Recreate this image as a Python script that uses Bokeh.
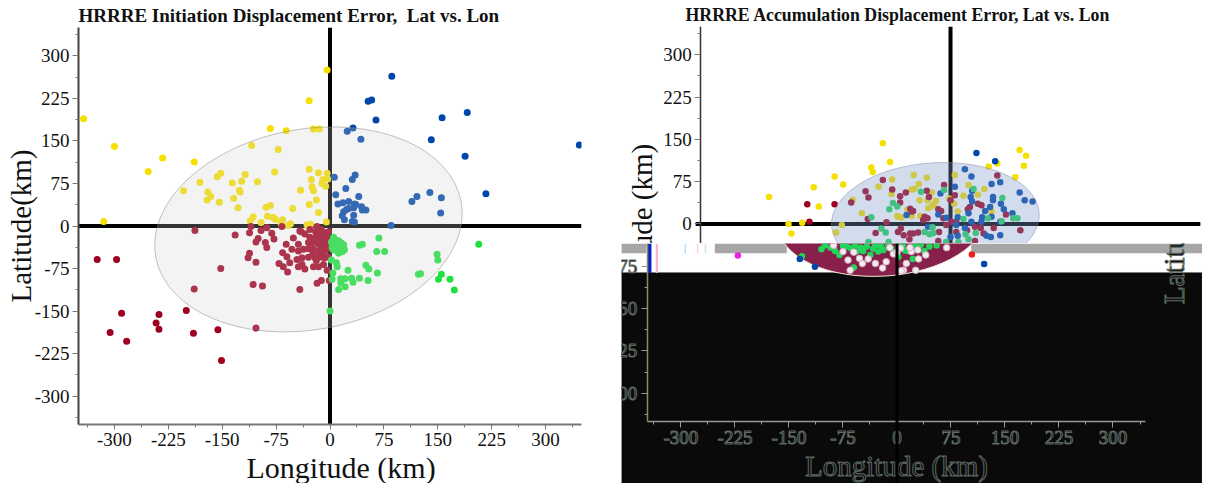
from math import pi
from bokeh.embed import file_html
from bokeh.resources import INLINE
from bokeh.plotting import figure
from bokeh.layouts import row, column
from bokeh.models import LinearAxis, FixedTicker, Span, Label, Title, Range1d

TITLE_L = "HRRRE Initiation Displacement Error,\u00a0 Lat vs. Lon"
TITLE_R = "HRRRE Accumulation Displacement Error, Lat vs. Lon"
XLABEL = "Longitude (km)"
MAJOR = [-300, -225, -150, -75, 0, 75, 150, 225, 300]
MAJOR_TEXT = ["-300", "-225", "-150", "-75", "0", "75", "150", "225", "300"]
MINOR = [-337.5, -262.5, -187.5, -112.5, -37.5, 37.5, 112.5, 187.5, 262.5, 337.5]

# Panel 1: initiation
y1 = [(-343,189),(-300,140),(-315,8),(-253,96),(-233,120),(-189,113),(-204,62),(-181,77),(-170,60),(-166,52),(-171,46),(-157,87),(-152,93),(-154,42),(-136,76),(-123,79),(-118,91),(-126,63),(-125,60),(-134,49),(-128,32),(-101,78),(-109,142),(-83,172),(-61,168),(-72,135),(-77,95),(-29,221),(-4,275),(-23,171),(-15,171),(-29,100),(-16,94),(-4,93),(-26,82),(-10,82),(-3,83),(-11,75),(-6,70),(-25,69),(-23,62),(-41,63),(-19,46),(-29,38),(-16,24),(-52,31),(-89,33),(-83,36),(-87,17),(-79,15),(-76,12),(-107,16),(-111,9),(-96,6),(-66,11),(-68,4),(-55,4),(-58,1),(-32,2),(-27,3),(-5,7)]
m1 = [(-324,-59),(-297,-59),(-290,-154),(-306,-188),(-283,-203),(-238,-156),(-242,-171),(-238,-182),(-200,-149),(-189,-111),(-190,-189),(-156,-183),(-151,-237),(-152,-75),(-188,-8),(-103,-180),(-107,-103),(-94,-106),(-42,-112),(-103,-64),(-132,-16),(-112,-48),(-114,-56),(-112,-12),(-110,-1),(-96,-8),(-88,-3),(-81,-13),(-78,-23),(-90,-29),(-88,-38),(-100,-22),(-103,-28),(-67,-1),(-71,-66),(-65,-72),(-59,-81),(-66,-47),(-60,-54),(-56,-65),(-61,-32),(-53,-41),(-51,-21),(-44,-32),(-44,-44),(-37,-41),(-30,-29),(-46,-59),(-39,-56),(-30,-55),(-44,-72),(-35,-76),(-39,-68),(-21,-56),(-19,-61),(-23,-72),(-16,-72),(-9,-68),(-4,-78),(-18,-101),(-12,-96),(-1,-96),(-16,-32),(-12,-38),(-7,-26),(-21,-21),(-14,-15),(-23,-41),(-7,-44),(-14,-47),(-19,-26),(-7,-12),(-12,-6),(-18,-1),(-5,-35),(-5,-20),(-9,-50),(-25,-30),(-11,-28),(-3,-40),(-3,-25),(-17,-44),(-28,-6),(-35,-14),(-40,-10),(-42,-9),(-9,-16),(-2,-10),(-20,-10),(-28,-20),(-13,-22),(-24,-50),(-30,-40),(-8,-56),(-2,-55),(-15,-55)]
b1 = [(86,264),(53,220),(58,222),(64,187),(32,173),(24,167),(43,153),(156,191),(191,200),(141,152),(188,123),(347,143),(217,57),(6,86),(35,90),(31,82),(22,66),(8,55),(40,52),(11,39),(18,41),(26,43),(34,39),(36,38),(33,32),(44,34),(45,28),(50,28),(26,31),(23,29),(19,25),(17,18),(20,11),(33,19),(31,8),(34,7),(114,43),(121,52),(139,59),(155,50),(154,23),(85,1)]
g1 = [(68,-21),(207,-32),(41,-34),(45,-32),(65,-45),(76,-45),(149,-50),(150,-60),(50,-69),(54,-76),(66,-83),(25,-78),(41,-92),(53,-96),(30,-92),(32,-99),(15,-93),(21,-93),(15,-100),(21,-107),(12,-112),(4,-83),(3,-94),(2,-60),(9,-65),(10,-72),(123,-85),(126,-84),(155,-85),(151,-94),(167,-94),(173,-113),(0,-150),(5,-20),(8,-25),(4,-30),(12,-26),(16,-30),(3,-38),(8,-35),(15,-38),(20,-42),(10,-44),(5,-42),(2,-28),(17,-45),(18,-36),(12,-48),(7,-28),(14,-30),(19,-33)]
ell1 = dict(x=-30, y=-6, w=432, h=354, angle=0.1786)

# Panel 2: accumulation, points above the displaced rows
y2 = [(-252,48),(-225,0),(-221,-17),(-206,2),(-183,31),(-190,65),(-161,84),(-149,70),(-136,43),(-151,-2),(-159,-15),(-123,19),(-110,100),(-108,92),(-94,143),(-84,110),(-100,66),(-81,79),(-82,53),(-51,87),(-74,14),(-69,12),(-60,25),(-54,14),(-54,61),(-51,62),(96,131),(105,121),(102,103),(65,107),(53,102),(90,83),(6,87),(-33,82),(-44,71),(-50,62),(-26,56),(25,69),(47,62),(18,50),(38,52),(-2,45),(-43,42),(-32,42),(-20,41),(-23,35),(-31,28),(-26,32),(5,36),(10,22),(57,22),(-73,13),(-68,12),(-42,14)]
m2 = [(-199,35),(-161,35),(-196,4),(-138,38),(-118,58),(-114,47),(-94,78),(-81,61),(-70,49),(-70,38),(-62,56),(-56,27),(-54,22),(-115,9),(-89,3),(-104,-16),(-73,-14),(-69,-8),(-65,-20),(-57,-27),(-52,-17),(65,86),(-9,69),(-33,59),(-30,48),(6,51),(0,42),(-52,23),(-17,26),(-13,23),(27,30),(24,26),(38,36),(43,33),(77,17),(-36,13),(-38,7),(-32,10),(-10,10),(-6,-2),(1,4),(8,4),(34,-5),(42,-7),(60,-7),(46,-17),(8,-14),(23,-11),(97,-11),(-16,-14),(-45,-15),(-56,-17),(-17,-30),(34,-30)]
b2 = [(-61,16),(36,126),(62,111),(20,97),(29,84),(6,66),(57,71),(69,74),(30,59),(-14,54),(96,56),(103,42),(114,40),(28,48),(30,40),(59,48),(59,42),(70,36),(74,26),(86,19),(55,30),(48,23),(57,13),(44,12),(43,4),(25,19),(-17,17),(-6,11),(10,12),(29,4),(20,-7),(69,4),(69,-20),(56,-23),(50,-21),(10,-21),(0,-23),(-31,-5),(8,-2)]
g2 = [(-110,12),(-96,-8),(-90,-15),(-85,26),(-80,37),(-74,31),(-86,-32),(-114,-32),(-9,60),(-41,57),(32,62),(72,46),(-25,-6),(-36,-14),(-29,-18),(-24,-16),(18,9),(52,10),(71,5),(87,10),(93,10),(35,-16),(21,-18),(25,-27),(-6,-32),(11,-32)]
ell2 = dict(x=-21, y=8, w=289, h=201, angle=0.061)
zero_x2 = [-354, 347]
zero_y2 = [0, 0]

# Panel 2: points in the displaced rows
g3 = [(-105,-45),(-132,-57),(-86,-48),(-80,-55),(-64,-43),(-56,-49),(-47,-48),(-37,-55),(-26,-49),(-19,-46),(-60,-77),(-70,-40),(2,-58),(22,-62),(38,-48),(11,-47),(-100,-38),(-92,-42),(-75,-38),(-58,-38),(-50,-42),(-42,-40),(-33,-44),(-30,-38),(-22,-40),(-12,-38),(-8,-44),(2,-40),(8,-38),(15,-48),(25,-40),(33,-37),(45,-40),(55,-38)]
w3 = [(-75,-49),(-68,-64),(-52,-61),(-65,-82),(-5,-53),(-15,-67),(13,-70),(9,-82),(20,-49),(5,-43),(18,-42),(29,-46),(6,-83),(26,-82),(69,-42),(-88,-38),(-60,-50),(-40,-62),(-30,-70),(-10,-42),(0,-50),(30,-62),(40,-55),(-48,-70),(-20,-78)]
b3 = [(-135,-62),(-114,-76),(121,-71)]
r3 = [(104,-54)]
v3 = [(-221,-56)]

# Displacement artefacts of panel 2
band_l = [-383, -253, 103]
band_r = [-348, -153, 424]
band_top = [-34.6, -34.6, -34.6]
band_bot = [-52, -52, -52]
band_col = ["#a6a6a6", "#a6a6a6", "#a6a6a6"]
stripe_l = [-347, -335, -295, -278, -267]
stripe_r = [-341, -332, -293, -276, -265]
stripe_top = [-34.6, -34.6, -34.6, -34.6, -34.6]
stripe_bot = [-87, -87, -52, -52, -52]
stripe_col = ["#0a22c8", "#f7b4d4", "#b4dcff", "#ffd0e0", "#c8f0c8"]
block = dict(left=-383, right=424, top=-86, bottom=-460)

SERIF = "Liberation Serif"
YEL, MAR, BLU, GRN = "#f6e000", "#a00020", "#0047ab", "#1de23d"
GRN2 = "#22d45c"


def pts(p, data, color, size=7, **kw):
    p.scatter([d[0] for d in data], [d[1] for d in data], size=size, fill_color=color,
              line_color=kw.pop("line_color", None), **kw)


def style_axis(a, tick=19, lab=29):
    a.ticker = FixedTicker(ticks=MAJOR, minor_ticks=MINOR)
    a.major_label_overrides = dict(zip(MAJOR, MAJOR_TEXT))
    a.major_label_text_font = SERIF
    a.major_label_text_font_size = f"{tick}px"
    a.major_label_text_color = "#111111"
    a.axis_label_text_font = SERIF
    a.axis_label_text_font_style = "normal"
    a.axis_label_text_font_size = f"{lab}px"
    a.axis_label_text_color = "#111111"
    a.major_tick_in = 0
    a.minor_tick_in = 0
    a.major_tick_out = 6
    a.minor_tick_out = 3
    a.major_tick_line_color = "#777777"
    a.minor_tick_line_color = "#777777"


# ---------- left panel ----------
left = figure(frame_width=503, frame_height=397,
              x_range=Range1d(-350, 350), y_range=Range1d(-350, 350),
              x_axis_location=None, y_axis_location=None, toolbar_location=None,
              output_backend="svg", min_border_left=78, min_border_right=40,
              min_border_top=26, min_border_bottom=0, outline_line_color=None)
left.grid.visible = False
left.add_layout(Title(text=TITLE_L, align="left", text_font=SERIF, text_font_size="19px",
                      text_font_style="bold", text_color="#111111", standoff=4), "above")
ya = LinearAxis(axis_label="Latitude(km)", axis_line_color="#444444", axis_line_width=2)
xa = LinearAxis(axis_line_color="#777777", axis_line_width=2)
style_axis(ya); style_axis(xa)
ya.major_label_standoff = 3; ya.axis_label_standoff = -5
xa.major_label_standoff = 3
xa.major_tick_out = 5
left.add_layout(ya, "left"); left.add_layout(xa, "below")
left.add_layout(Title(text=XLABEL, align="left", offset=168, text_font=SERIF, text_font_size="30px",
                      text_font_style="normal", text_color="#111111", standoff=0, text_line_height=0.85), "below")
z_tick = LinearAxis(fixed_location=-350, ticker=FixedTicker(ticks=[0]), axis_line_color=None,
                    major_tick_line_color="black", major_tick_line_width=4, major_tick_in=0, major_tick_out=5,
                    major_label_text_alpha=0, minor_tick_line_color=None)
left.add_layout(z_tick, "left")
left.add_layout(Span(location=0, dimension="width", line_color="black", line_width=4, level="underlay"))
left.add_layout(Span(location=0, dimension="height", line_color="black", line_width=4, level="underlay"))
pts(left, y1, YEL); pts(left, m1, MAR); pts(left, b1, BLU); pts(left, g1, GRN)
left.ellipse([ell1["x"]], [ell1["y"]], width=ell1["w"], height=ell1["h"], angle=ell1["angle"],
             fill_color="#d0d0d0", fill_alpha=0.25, line_color="#888888", line_alpha=0.5)

# ---------- right panel, upper rows ----------
top = figure(frame_width=581, frame_height=217,
             x_range=Range1d(-457, 350), y_range=Range1d(-34.6, 350),
             x_axis_location=None, y_axis_location=None, toolbar_location=None,
             output_backend="svg", min_border=0, min_border_top=24, outline_line_color=None)
top.grid.visible = False
top.add_layout(Title(text=TITLE_R, align="left", offset=64, text_font=SERIF, text_font_size="17.8px",
                     text_font_style="bold", text_color="#111111", standoff=4), "above")
ya2 = LinearAxis(fixed_location=-347, axis_line_color="#333333", axis_line_width=1.5)
style_axis(ya2)
ya2.major_label_standoff = 3
top.add_layout(ya2, "left")
top.line(zero_x2, zero_y2, line_color="black", line_width=4)
top.add_layout(Span(location=0, dimension="height", line_color="black", line_width=4, level="underlay"))
pts(top, y2, YEL, 6.5); pts(top, m2, MAR, 6.5); pts(top, b2, BLU, 6.5); pts(top, g2, GRN2, 6.5)
top.ellipse([ell2["x"]], [ell2["y"]], width=ell2["w"], height=ell2["h"], angle=ell2["angle"],
            fill_color="#819bc8", fill_alpha=0.35, line_color="#8090b0", line_alpha=0.5)
top.add_layout(Label(x=-428, y=0, text="Latitude (km)", angle=pi / 2, text_align="center",
                     text_baseline="middle", text_font=SERIF, text_font_size="29px", text_color="#111111"))

# ---------- right panel, displaced rows ----------
low = figure(frame_width=581, frame_height=240, x_range=Range1d(-382.6, 424.3), y_range=Range1d(-460, -34.6),
             x_axis_location=None, y_axis_location=None, toolbar_location=None,
             output_backend="svg", min_border=0, outline_line_color=None)
low.grid.visible = False
low.quad(left=[block["left"]], right=[block["right"]], top=[block["top"]], bottom=[block["bottom"]],
         fill_color="#0a0a0a", line_color="#777777", line_width=0.5)
low.quad(left=band_l, right=band_r, top=band_top, bottom=band_bot, fill_color=band_col, line_color=None)
low.quad(left=stripe_l, right=stripe_r, top=stripe_top, bottom=stripe_bot, fill_color=stripe_col, line_color=None)
low.ellipse([ell2["x"]], [ell2["y"]], width=ell2["w"], height=ell2["h"], angle=ell2["angle"],
            fill_color="#87204a", line_color="#f0e8d0", line_width=1)
low.add_layout(Span(location=0, dimension="height", line_color="black", line_width=3))
pts(low, g3, GRN2, 6.5); pts(low, w3, "#f2ecec", 6.5, line_color="#d8b0c8")
pts(low, b3, BLU, 6.5); pts(low, r3, "#f02020", 6.5); pts(low, v3, "#f020e0", 6.5)
OUT = "#5f6b64"
ya3 = LinearAxis(fixed_location=-347, bounds=(-350, -34.6), axis_line_color="#8a8a60", axis_line_width=1.5)
xa3 = LinearAxis(fixed_location=-350, bounds=(-347, 345), axis_label=XLABEL, axis_line_color="#999999",
                 axis_line_width=1.5)
style_axis(ya3); style_axis(xa3)
for a in (ya3, xa3):
    a.major_label_standoff = 4
    a.major_label_text_color = "#0a0a0a"
    a.major_label_text_outline_color = OUT
    a.major_tick_line_color = "#999999"
    a.minor_tick_line_color = "#999999"
xa3.axis_label_text_color = "#0a0a0a"
xa3.axis_label_text_outline_color = OUT
xa3.axis_label_standoff = 2
low.add_layout(ya3, "left"); low.add_layout(xa3, "below")
low.add_layout(Label(x=385, y=0, text="Latitude (km)", angle=pi / 2, text_align="center",
                     text_baseline="middle", text_font=SERIF, text_font_size="29px", text_color="#111111",
                     text_outline_color=OUT))

page = row(left, column(top, low, spacing=0), spacing=0)
open("out.html", "w").write(file_html(page, INLINE))
